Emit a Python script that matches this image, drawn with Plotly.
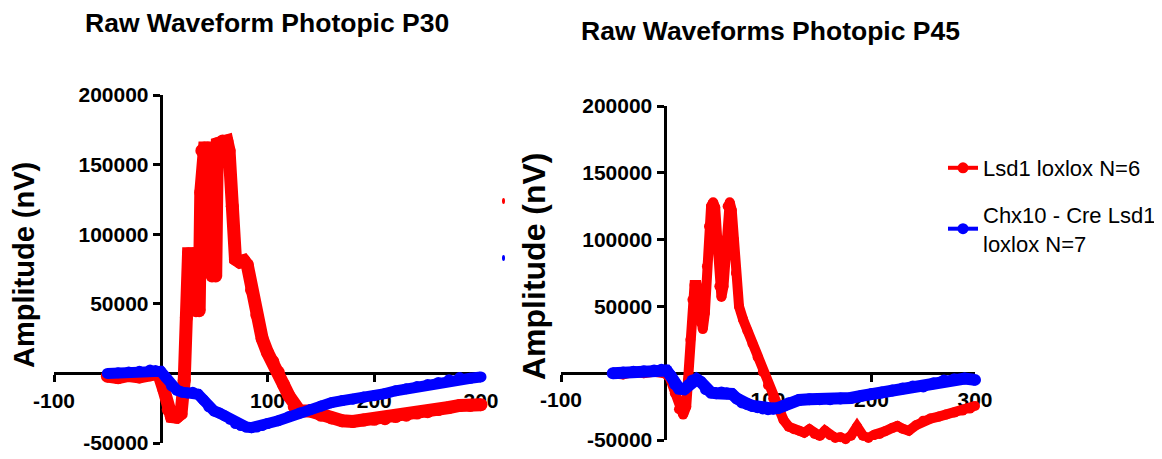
import plotly.graph_objects as go

# ---------------- data ----------------
p30_red_t = [-50, -40, -30, -20, -10, -2, 3, 7, 10, 15, 19, 22, 24, 26, 30, 31, 32, 33, 35, 36,
             37.5, 38.5, 41, 44, 45.5, 46.5, 48, 50, 51.5, 53, 58, 62, 64, 67, 70, 74, 78, 81,
             85, 90, 95, 100, 105, 110, 115, 120, 125, 130, 140, 150, 160, 170, 180, 190, 200,
             210, 220, 230, 240, 250, 260, 270, 280, 290, 300]
p30_red_v = [-2000, -3000, -1500, -2500, -1000, 0, -12000, -26000, -31000, -31500, -29000, -5000,
             40000, 86000, 86000, 55000, 86000, 45000, 80000, 45000,
             130000, 160000, 162000, 162000, 120000, 150000, 70000, 120000, 70000, 165000,
             167000, 167000, 160000, 120000, 82000, 80000, 81000, 78000,
             60000, 42000, 25000, 15000, 8500, 1000, -8000, -16000, -24000, -27000, -27000,
             -30000, -32000, -34000, -34500, -33500, -33000, -32500, -31000, -30000, -28500,
             -27500, -26000, -24500, -23000, -23000, -22500]

p30_blue_t = [-50, -40, -30, -20, -10, -5, 0, 5, 10, 15, 20, 25, 30, 35, 40, 45, 50, 55, 60, 65,
              70, 75, 80, 85, 90, 95, 100, 110, 120, 130, 140, 150, 160, 170, 180, 190, 200, 210,
              220, 230, 240, 250, 260, 270, 280, 290, 300]
p30_blue_v = [0, 500, 1000, 1500, 2500, 2000, 1500, -3000, -9000, -12000, -13500, -14000, -13500,
              -15000, -19000, -24000, -27000, -28500, -30500, -33000, -36000, -37500, -38500,
              -39000, -38500, -37500, -36000, -34000, -31000, -28500, -26000, -23500, -21000,
              -19500, -18500, -17000, -16000, -14500, -12500, -11000, -9500, -8000, -6500, -4500,
              -3000, -3500, -2500]

p45_red_t = [-50, -40, -30, -20, -10, 0, 5, 10, 14, 18, 21, 23, 25, 27, 29, 31, 33, 35, 37, 39,
             41, 43, 45, 47, 49, 51, 53, 55, 57, 59, 61, 63, 65, 67, 69, 72, 76, 80, 85, 90, 95,
             100, 105, 110, 115, 120, 125, 130, 135, 140, 145, 150, 155, 160, 165, 170, 175, 180,
             186, 192, 197, 203, 208, 213, 220, 225, 230, 236, 243, 250, 257, 265, 272, 280, 288,
             295, 300]
p45_red_v = [0, -1000, 1000, 0, 1000, 0, -3000, -15000, -27000, -31000, -25000, -5000, 25000,
             55000, 66000, 66000, 55000, 38000, 33000, 45000, 80000, 110000, 125000, 128000,
             124000, 100000, 65000, 57000, 65000, 100000, 125000, 128000, 122000, 100000, 75000,
             50000, 40000, 32000, 22000, 12000, 1000, -9000, -19000, -27000, -35000, -40000,
             -42000, -43000, -44500, -42000, -45500, -47000, -43000, -46500, -48500, -48000,
             -49500, -47000, -40000, -47000, -48500, -46000, -45500, -43500, -41000, -39500,
             -41500, -43000, -39000, -35500, -34000, -32500, -31000, -29500, -28000, -26500,
             -24500]

p45_blue_t = [-50, -40, -30, -20, -10, -3, 2, 6, 10, 14, 19, 23, 27, 31, 35, 40, 45, 50, 55, 60,
              65, 70, 75, 80, 85, 90, 95, 100, 105, 110, 115, 120, 130, 140, 150, 160, 170, 180,
              190, 200, 210, 220, 230, 240, 250, 260, 270, 280, 290, 300]
p45_blue_v = [0, 500, 1000, 1500, 2000, 2500, 2000, -2000, -8000, -11500, -12000, -9000, -5500,
              -4500, -6500, -12000, -14500, -15000, -14500, -15000, -15500, -19000, -22000,
              -23000, -24500, -25500, -26500, -27000, -26500, -26000, -24500, -22500, -20000,
              -19500, -19500, -19500, -19000, -18500, -17000, -15500, -14500, -13000, -11500,
              -10000, -10000, -7500, -5500, -4500, -4000, -5000]

titles = ["Raw Waveform Photopic P30", "Raw Waveforms Photopic P45"]
series_names = ["Lsd1 loxlox N=6", "Chx10 - Cre Lsd1<br>loxlox N=7"]
x_ticks = [-100, 100, 200, 300]
x_ticktext = ["-100", "100", "200", "300"]
y_ticks = [-50000, 50000, 100000, 150000, 200000]
y_ticktext = ["-50000", "50000", "100000", "150000", "200000"]
y_title = "Amplitude (nV)"

RED = "#ff0000"
BLUE = "#0000ff"
FONT = "Liberation Sans, Arial, sans-serif"

W, H = 1162, 459
OX, OY = 8, 8  # page body margin offset compensation

# ---------------- layout geometry (screen pixels) ----------------
def fx(px):
    return (px - OX) / W

def fy(py):
    return 1 - (py - OY) / H

L_x = [fx(54), fx(481)]
L_y = [fy(443), fy(95)]
R_x = [fx(561), fx(975)]
R_y = [fy(440), fy(106)]

fig = go.Figure()

def add_panel(xa, ya, red_t, red_v, blue_t, blue_v, wr, wb):
    fig.add_trace(go.Scatter(x=red_t, y=red_v, mode="lines+markers", xaxis=xa, yaxis=ya,
                             line=dict(color=RED, width=wr), marker=dict(color=RED, size=wr),
                             cliponaxis=False, showlegend=False, hoverinfo="skip"))
    fig.add_trace(go.Scatter(x=blue_t, y=blue_v, mode="lines+markers", xaxis=xa, yaxis=ya,
                             line=dict(color=BLUE, width=wb), marker=dict(color=BLUE, size=wb),
                             cliponaxis=False, showlegend=False, hoverinfo="skip"))

add_panel("x", "y", p30_red_t, p30_red_v, p30_blue_t, p30_blue_v, 13, 11)
add_panel("x2", "y2", p45_red_t, p45_red_v, p45_blue_t, p45_blue_v, 10, 12)

# legend-only entries
for name, col, grp in [(series_names[0], RED, "a"), (series_names[1], BLUE, "b")]:
    fig.add_trace(go.Scatter(x=[None], y=[None], mode="lines+markers", name=name,
                             xaxis="x2", yaxis="y2", legendgroup=grp,
                             line=dict(color=col, width=4), marker=dict(color=col, size=11)))

axis_common = dict(showgrid=False, zeroline=False, showline=True, linecolor="black",
                   linewidth=3, ticks="outside", ticklen=7, tickwidth=3, tickcolor="black",
                   tickfont=dict(family=FONT, size=21, color="black", weight="bold"),
                   layer="below traces", anchor="free", automargin=False)

def xpos(d):
    return d[0] + 0.25 * (d[1] - d[0])

def ypos(d):
    return d[0] + 0.2 * (d[1] - d[0])

fig.update_layout(
    width=W, height=H,
    margin=dict(l=0, r=0, t=0, b=0, pad=0, autoexpand=False),
    paper_bgcolor="white", plot_bgcolor="rgba(0,0,0,0)",
    font=dict(family=FONT, color="black"),
    xaxis=dict(axis_common, domain=L_x, range=[-100, 300], tickvals=x_ticks,
               ticktext=x_ticktext, position=ypos(L_y)),
    yaxis=dict(axis_common, domain=L_y, range=[-50000, 200000], tickvals=y_ticks,
               ticktext=y_ticktext, position=xpos(L_x)),
    xaxis2=dict(axis_common, domain=R_x, range=[-100, 300], tickvals=x_ticks,
                ticktext=x_ticktext, position=ypos(R_y)),
    yaxis2=dict(axis_common, domain=R_y, range=[-50000, 200000], tickvals=y_ticks,
                ticktext=y_ticktext, position=xpos(R_x)),
    legend=dict(x=fx(943), y=fy(147), xanchor="left", yanchor="top",
                font=dict(family=FONT, size=22, color="black"),
                bgcolor="rgba(0,0,0,0)", itemwidth=30, traceorder="grouped",
                tracegroupgap=15),
    annotations=[
        dict(text=titles[0], x=fx(267), y=fy(23), xref="paper", yref="paper",
             showarrow=False, xanchor="center", yanchor="middle",
             font=dict(family=FONT, size=26.5, color="black", weight="bold")),
        dict(text=titles[1], x=fx(770), y=fy(31), xref="paper", yref="paper",
             showarrow=False, xanchor="center", yanchor="middle",
             font=dict(family=FONT, size=26.5, color="black", weight="bold")),
        dict(text=y_title, x=fx(24), y=fy(265), xref="paper", yref="paper",
             showarrow=False, xanchor="center", yanchor="middle", textangle=-90,
             font=dict(family=FONT, size=29, color="black", weight="bold")),
        dict(text=y_title, x=fx(534), y=fy(266), xref="paper", yref="paper",
             showarrow=False, xanchor="center", yanchor="middle", textangle=-90,
             font=dict(family=FONT, size=32, color="black", weight="bold")),
    ],
    shapes=[
        dict(type="circle", xref="paper", yref="paper", x0=fx(502), x1=fx(505),
             y0=fy(204), y1=fy(198), fillcolor=RED, line=dict(width=0)),
        dict(type="circle", xref="paper", yref="paper", x0=fx(502), x1=fx(505),
             y0=fy(261), y1=fy(255), fillcolor=BLUE, line=dict(width=0)),
    ],
)

fig.write_html("out.html")
